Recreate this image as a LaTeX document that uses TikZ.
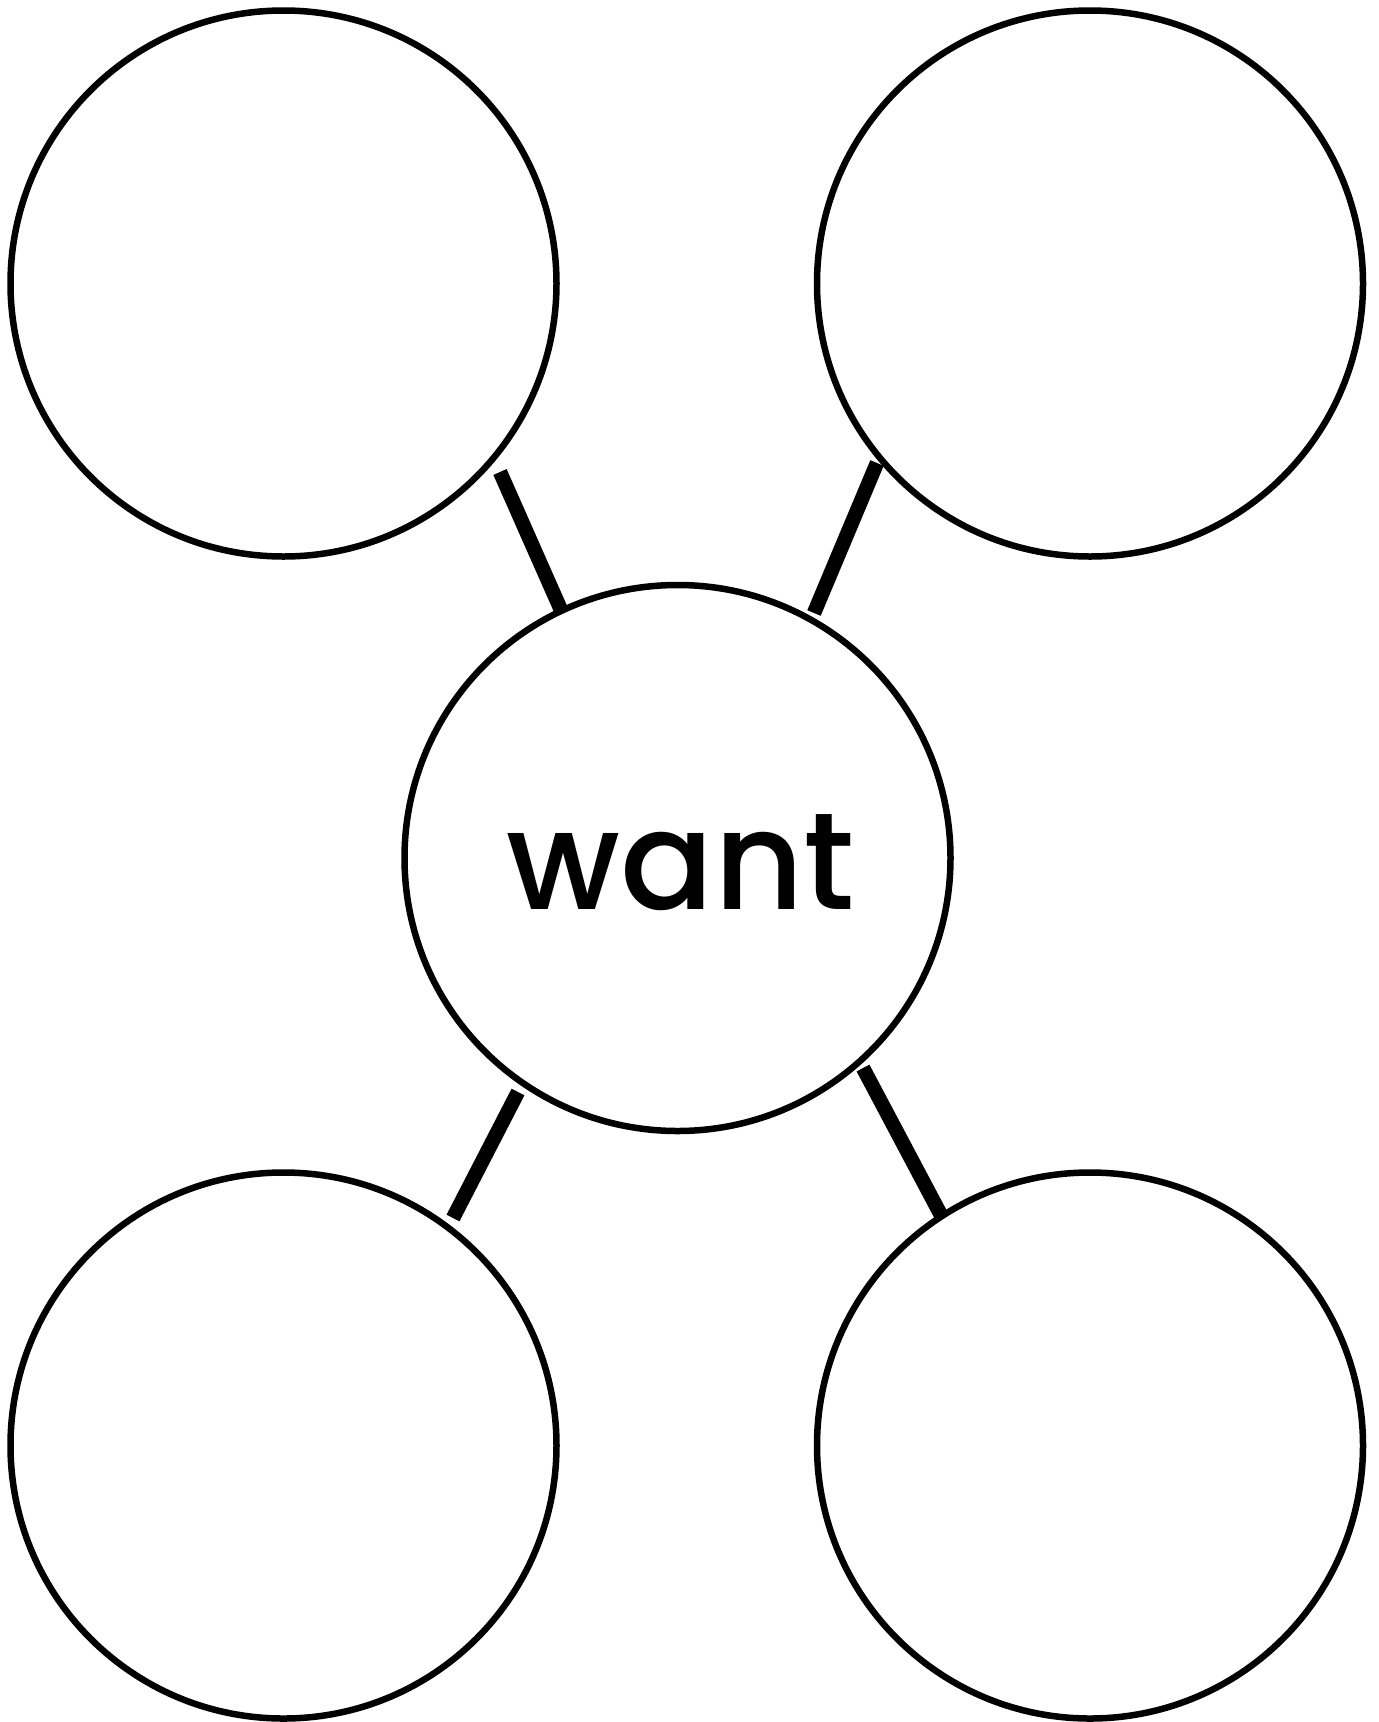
\documentclass[tikz,border=0pt]{standalone}
\usepackage{fontspec}
\newfontfamily\wordfont{Poppins}[UprightFont={* Medium}]
\begin{document}
\begin{tikzpicture}[x=1pt,y=-1pt,
  bubble/.style={circle,draw=black,line width=6.5pt,minimum size=546pt,inner sep=0pt,fill=white},
  link/.style={line width=14.5pt,draw=black}]
\useasboundingbox[fill=white] (0,0) rectangle (1379,1722);
\node[bubble] (tl) at (283.5,283.5) {};
\node[bubble] (tr) at (1090,283.5) {};
\node[bubble] (bl) at (283.5,1445.5) {};
\node[bubble] (br) at (1090,1445.5) {};
\node[bubble] (c) at (677.5,858) {};
\node[font=\wordfont\fontsize{138}{138}\selectfont,anchor=base] (w) at (681,909) {want};
\coordinate (tlA) at (500,472);
\coordinate (tlB) at (561,610);
\coordinate (trA) at (877,463);
\coordinate (trB) at (814,613);
\coordinate (blA) at (518,1092);
\coordinate (blB) at (453,1218);
\coordinate (brA) at (863,1068);
\coordinate (brB) at (942,1217);
\draw[link] (tlA) -- (tlB);
\draw[link] (trA) -- (trB);
\draw[link] (blA) -- (blB);
\draw[link] (brA) -- (brB);
\end{tikzpicture}
\end{document}
